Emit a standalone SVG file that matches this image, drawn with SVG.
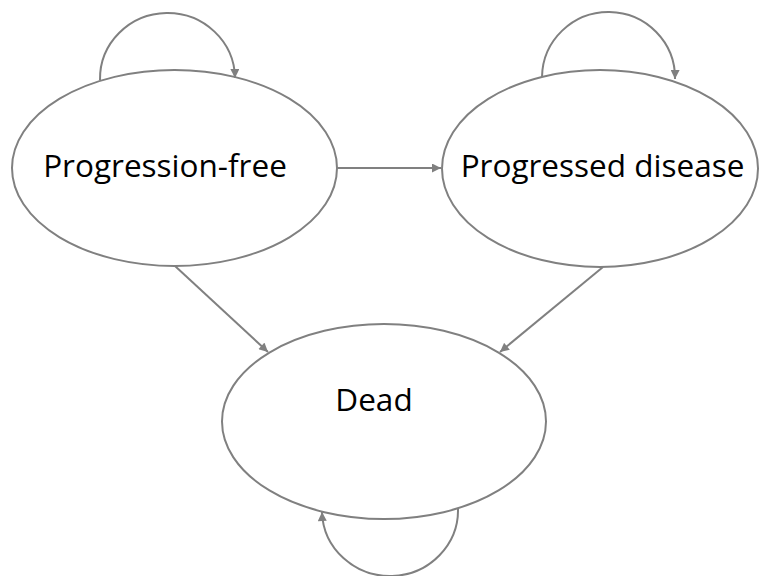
<svg xmlns="http://www.w3.org/2000/svg" width="760" height="576" viewBox="0 0 760 576">
  <style>
    .state { fill: #ffffff; stroke: #808080; stroke-width: 2; }
    .label { font-family: "Open Sans", "Liberation Sans", sans-serif; font-size: 31.5px; fill: #000000; text-anchor: middle; }
    .edge { fill: none; stroke: #808080; stroke-width: 2; marker-end: url(#arrow); }
  </style>
  <defs>
    <marker id="arrow" viewBox="0 0 10 10" refX="10" refY="5" markerWidth="10" markerHeight="9" markerUnits="userSpaceOnUse" orient="auto">
      <path d="M0,0 L10,5 L0,10 Z" fill="#808080"/>
    </marker>
  </defs>
  <rect width="760" height="576" fill="#ffffff"/>

  <g id="node-progression-free">
    <ellipse class="state" cx="174.5" cy="168" rx="162.5" ry="98"/>
    <text class="label" x="165" y="177">Progression-free</text>
  </g>

  <g id="node-progressed-disease">
    <ellipse class="state" cx="600" cy="168.5" rx="158" ry="98.5"/>
    <text class="label" x="602.5" y="177">Progressed disease</text>
  </g>

  <g id="node-dead">
    <ellipse class="state" cx="384" cy="421.5" rx="162" ry="97.5"/>
    <text class="label" x="374" y="411">Dead</text>
  </g>

  <g id="connectors">
    <!-- self transitions -->
    <path class="edge" d="M100,80 A67.5,66 0 0 1 235,78"/>
    <path class="edge" d="M542,77 A66.5,66 0 0 1 675,79"/>
    <path class="edge" d="M458,508 A68,66 0 0 1 322,512"/>
    <!-- transitions between states -->
    <path class="edge" d="M337,168 L441,168"/>
    <path class="edge" d="M175,266 L268,352"/>
    <path class="edge" d="M603,267 L500,352"/>
  </g>
</svg>
